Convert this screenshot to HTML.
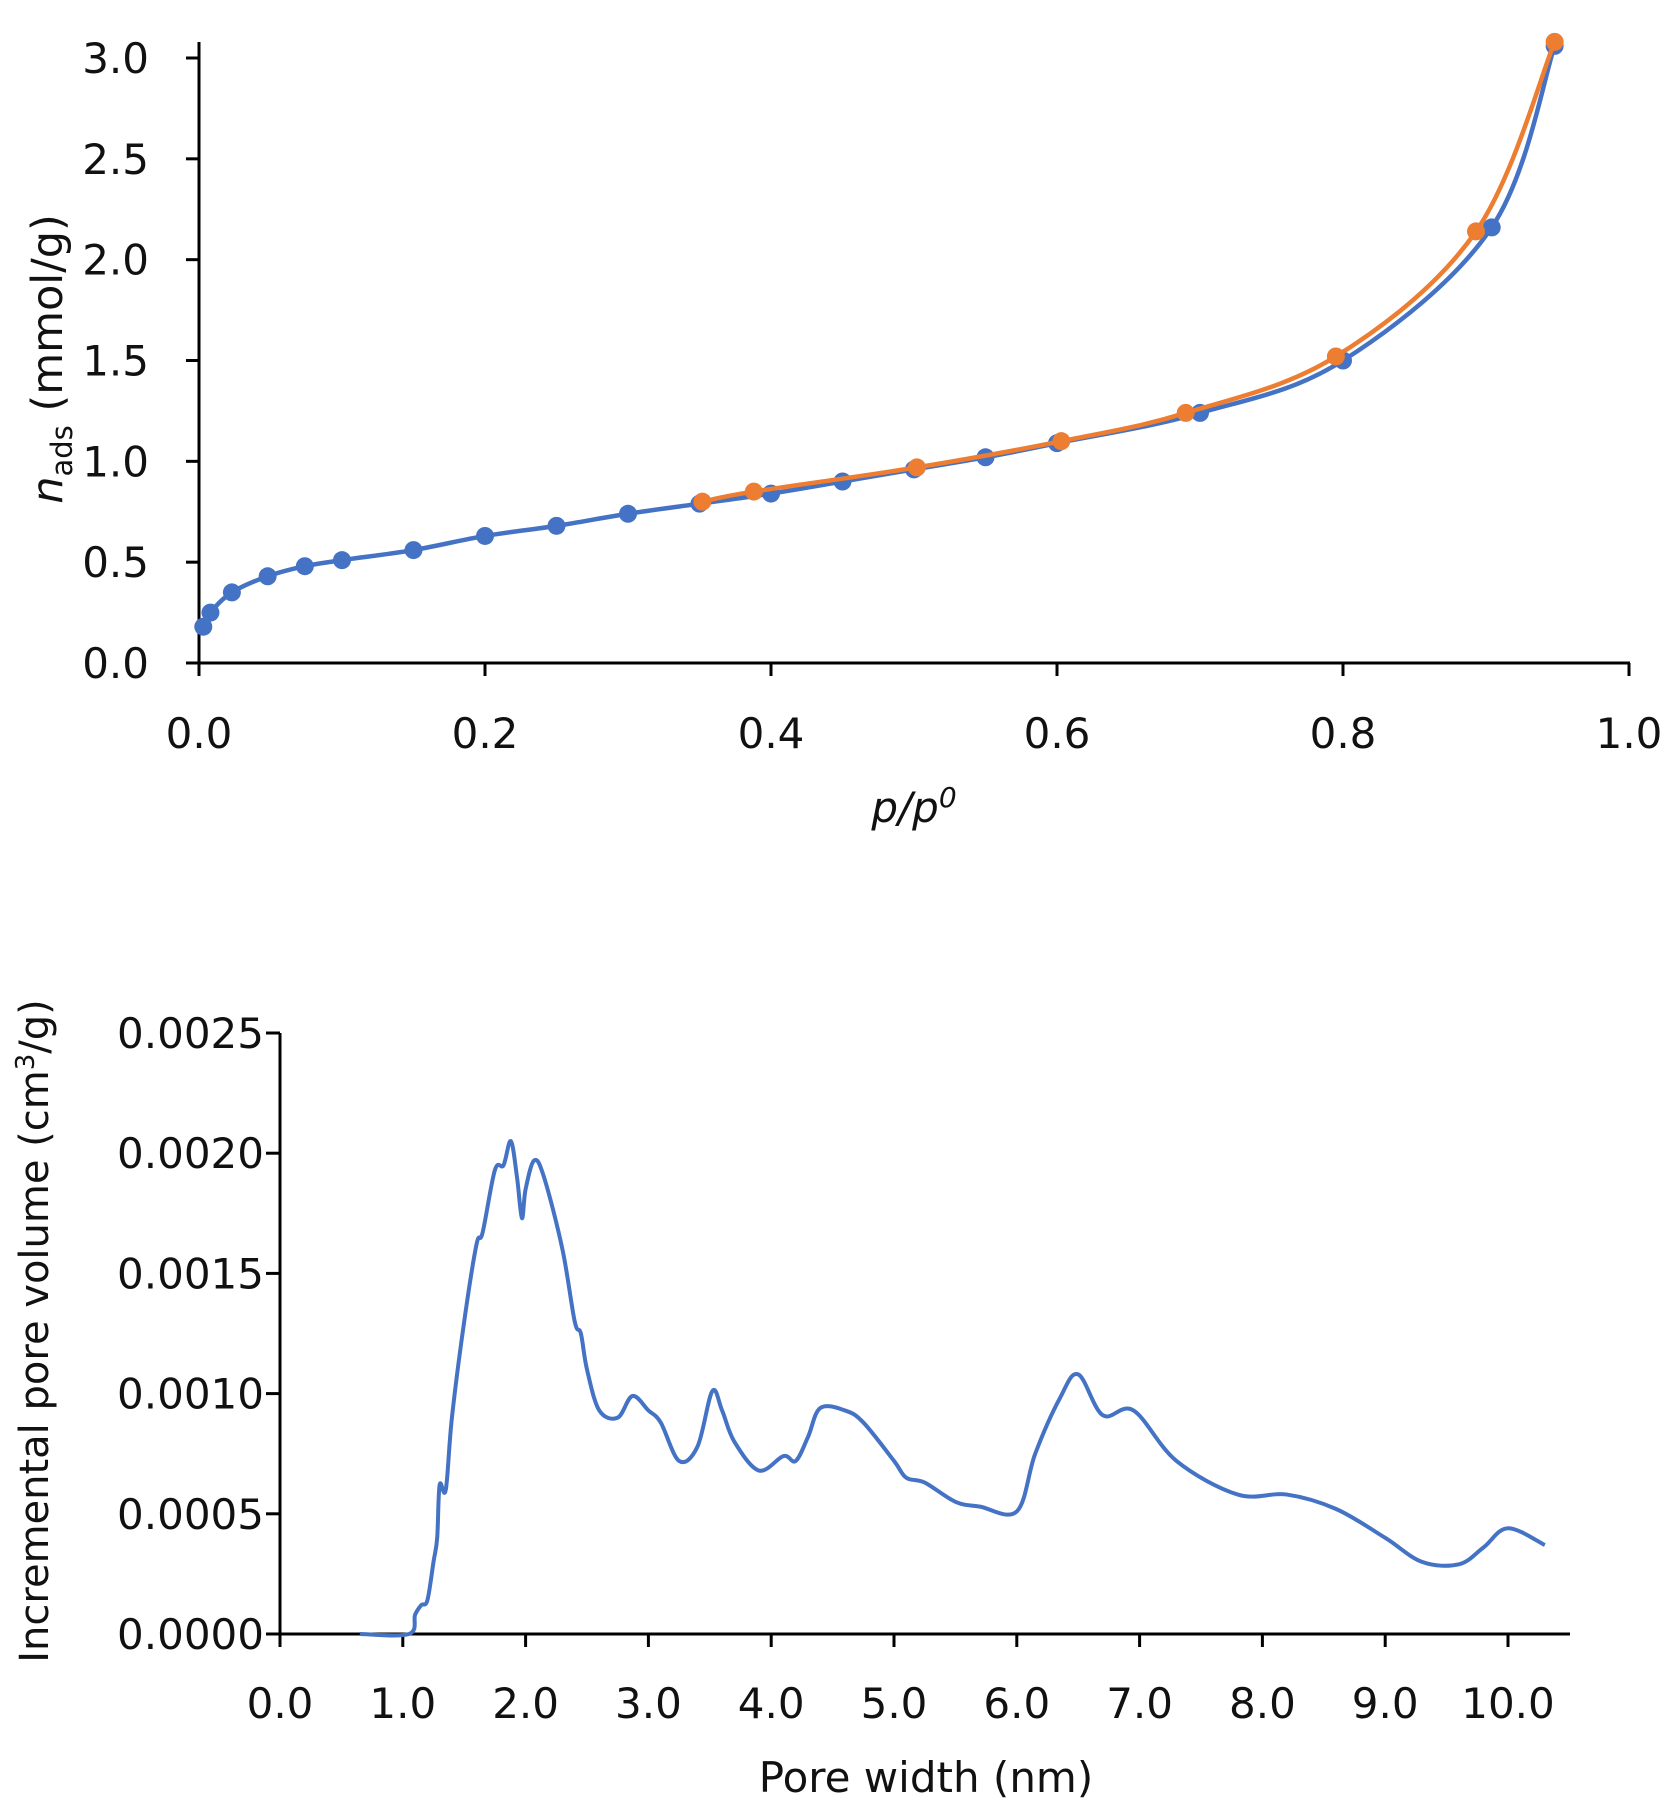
<!DOCTYPE html>
<html><head><meta charset="utf-8"><style>
html,body{margin:0;padding:0;background:#fff;}
svg{display:block;font-family:"DejaVu Sans","Liberation Sans",sans-serif;}
</style></head><body>
<svg id="fig" width="1678" height="1812" viewBox="0 0 1678 1812">
<g id="topChart"></g>
<g id="botChart"></g>
</svg>
<script>
// Top chart data
const isoBlueX = [0.003,0.008,0.023,0.048,0.074,0.1,0.15,0.2,0.25,0.3,0.35,0.4,0.45,0.5,0.55,0.6,0.7,0.8,0.904,0.948];
const isoBlueY = [0.18,0.25,0.35,0.43,0.48,0.51,0.56,0.63,0.68,0.74,0.79,0.84,0.90,0.96,1.02,1.09,1.24,1.50,2.16,3.06];
const isoOrangeX = [0.352,0.388,0.502,0.603,0.69,0.795,0.893,0.948];
const isoOrangeY = [0.80,0.85,0.97,1.10,1.24,1.52,2.14,3.08];
const topXTicks = ["0.0","0.2","0.4","0.6","0.8","1.0"];
const topYTicks = ["0.0","0.5","1.0","1.5","2.0","2.5","3.0"];
// Bottom chart data
const poreX = [0.65,1.05,1.1,1.15,1.2,1.25,1.28,1.3,1.35,1.4,1.5,1.6,1.65,1.75,1.82,1.88,1.93,1.97,2.0,2.07,2.15,2.3,2.4,2.45,2.5,2.6,2.75,2.87,3.0,3.1,3.25,3.4,3.52,3.6,3.7,3.9,4.1,4.2,4.3,4.4,4.6,4.75,5.0,5.1,5.25,5.5,5.7,6.0,6.15,6.35,6.5,6.7,6.95,7.3,7.8,8.2,8.6,9.0,9.3,9.6,9.8,10.0,10.3];
const poreY = [0,0,0.00008,0.00012,0.00014,0.0003,0.0004,0.00062,0.0006,0.0009,0.0013,0.00162,0.00167,0.00193,0.00195,0.00205,0.0019,0.00173,0.00185,0.00197,0.0019,0.0016,0.0013,0.00125,0.0011,0.00093,0.0009,0.00099,0.00093,0.00088,0.00072,0.00078,0.00101,0.00093,0.0008,0.00068,0.00074,0.00072,0.00082,0.00094,0.00093,0.00088,0.00072,0.00065,0.00063,0.00055,0.00053,0.00051,0.00075,0.00098,0.00108,0.00091,0.00093,0.00072,0.00058,0.00058,0.00052,0.0004,0.0003,0.00029,0.00036,0.00044,0.00037];
const botXTicks = ["0.0","1.0","2.0","3.0","4.0","5.0","6.0","7.0","8.0","9.0","10.0"];
const botYTicks = ["0.0000","0.0005","0.0010","0.0015","0.0020","0.0025"];

const NS="http://www.w3.org/2000/svg";
function mk(parent,tag,attrs){const e=document.createElementNS(NS,tag);for(const k in attrs)e.setAttribute(k,attrs[k]);parent.appendChild(e);return e;}
function smooth(pts){let d="M"+pts[0][0]+","+pts[0][1];for(let i=0;i<pts.length-1;i++){const p0=pts[Math.max(0,i-1)],p1=pts[i],p2=pts[i+1],p3=pts[Math.min(pts.length-1,i+2)];const t=0.17;
const c1x=p1[0]+(p2[0]-p0[0])*t,c1y=p1[1]+(p2[1]-p0[1])*t,c2x=p2[0]-(p3[0]-p1[0])*t,c2y=p2[1]-(p3[1]-p1[1])*t;d+=" C"+c1x+","+c1y+" "+c2x+","+c2y+" "+p2[0]+","+p2[1];}return d;}

// ---- top
const topG=document.getElementById('topChart');
const tx=v=>199+v*(1629-199), ty=v=>663-v/3*(663-58);
let el=mk(topG,'line',{x1:199,y1:42,x2:199,y2:676,stroke:'#000','stroke-width':3});


el=mk(topG,'line',{x1:186,y1:663,x2:1630,y2:663,stroke:'#000','stroke-width':3});


topYTicks.forEach(s=>{const y=ty(parseFloat(s));mk(topG,'line',{x1:186,y1:y,x2:199,y2:y,stroke:'#000','stroke-width':3});
const t=mk(topG,'text',{x:149,y:y+15,'font-size':42,'text-anchor':'end',fill:'#111'});t.textContent=s;

});
topXTicks.forEach(s=>{const x=tx(parseFloat(s));mk(topG,'line',{x1:x,y1:663,x2:x,y2:676,stroke:'#000','stroke-width':3});
const t=mk(topG,'text',{x:x,y:748,'font-size':42,'text-anchor':'middle',fill:'#111'});t.textContent=s;

});
el=mk(topG,'text',{x:914,y:822,'font-size':42,'text-anchor':'middle','font-style':'italic',fill:'#111'});
el.innerHTML='p/p<tspan dy="-15" font-size="28">0</tspan>';


el=mk(topG,'text',{x:0,y:0,'font-size':43,'text-anchor':'middle',fill:'#111',transform:'translate(62,359) rotate(-90)'});
el.innerHTML='<tspan font-style="italic">n</tspan><tspan dy="10" font-size="29">ads</tspan><tspan dy="-10"> (mmol/g)</tspan>';


function series(xs,ys,col,name){const pts=xs.map((x,i)=>[tx(x),ty(ys[i])]);
const p=mk(topG,'path',{d:smooth(pts),fill:'none',stroke:col,'stroke-width':4.5});


pts.forEach(q=>{const c=mk(topG,'circle',{cx:q[0],cy:q[1],r:9,fill:col});

});}
series(isoBlueX,isoBlueY,'#4472C4','adsorption');
series(isoOrangeX,isoOrangeY,'#ED7D31','desorption');

// ---- bottom
const botG=document.getElementById('botChart');
const bx=v=>280+v*(1508-280)/10, by=v=>1634-v/0.0025*(1634-1033);
el=mk(botG,'line',{x1:280,y1:1033,x2:280,y2:1647,stroke:'#000','stroke-width':3});


el=mk(botG,'line',{x1:266,y1:1634,x2:1570,y2:1634,stroke:'#000','stroke-width':3});


botYTicks.forEach(s=>{const y=by(parseFloat(s));mk(botG,'line',{x1:266,y1:y,x2:280,y2:y,stroke:'#000','stroke-width':3});
const t=mk(botG,'text',{x:264,y:y+15,'font-size':42,'text-anchor':'end',fill:'#111'});t.textContent=s;

});
botXTicks.forEach(s=>{const x=bx(parseFloat(s));mk(botG,'line',{x1:x,y1:1634,x2:x,y2:1647,stroke:'#000','stroke-width':3});
const t=mk(botG,'text',{x:x,y:1718,'font-size':42,'text-anchor':'middle',fill:'#111'});t.textContent=s;

});
el=mk(botG,'text',{x:926,y:1792,'font-size':42,'text-anchor':'middle',fill:'#111'});el.textContent='Pore width (nm)';


el=mk(botG,'text',{x:0,y:0,'font-size':40,'text-anchor':'middle',fill:'#111',transform:'translate(48,1331) rotate(-90)'});
el.innerHTML='Incremental pore volume (cm<tspan dy="-14" font-size="26">3</tspan><tspan dy="14">/g)</tspan>';


const pp=poreX.map((x,i)=>[bx(x),by(poreY[i])]);
el=mk(botG,'path',{d:smooth(pp),fill:'none',stroke:'#4472C4','stroke-width':4,'stroke-linejoin':'round'});


</script>
</body></html>
